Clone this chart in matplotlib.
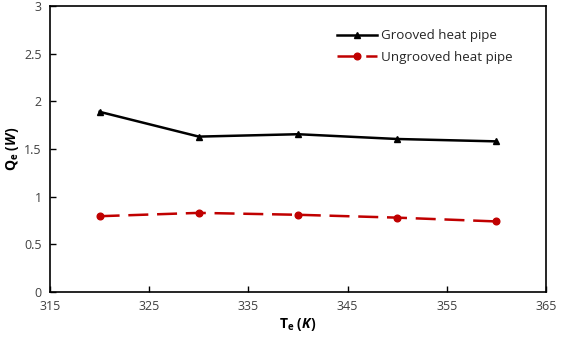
import matplotlib
matplotlib.use("Agg")
import matplotlib.pyplot as plt

plt.rcParams['font.family'] = ['Open Sans', 'DejaVu Sans']
plt.rcParams['mathtext.fontset'] = 'custom'
plt.rcParams['mathtext.rm'] = 'Open Sans'
plt.rcParams['mathtext.it'] = 'Open Sans:italic'
plt.rcParams['mathtext.bf'] = 'Open Sans:bold'
plt.rcParams['mathtext.bfit'] = 'Open Sans:bold:italic'

temps = [320, 330, 340, 350, 360]
grooved = [1.89, 1.63, 1.655, 1.605, 1.58]
ungrooved = [0.795, 0.83, 0.81, 0.78, 0.74]
x_ticks = [315, 325, 335, 345, 355, 365]
y_ticks = [0, 0.5, 1, 1.5, 2, 2.5, 3]

fig = plt.figure(figsize=(5.61, 3.37), dpi=100)
ax = fig.add_axes([50/561, 1 - 292/337, 496/561, 286/337])

ax.plot(temps, grooved, color='black', lw=1.8, marker='^', ms=4.8,
        label='Grooved heat pipe')
ax.plot(temps, ungrooved, color='#C00000', lw=1.8, ls=(0, (8, 3.5)), marker='o', ms=4.8,
        label='Ungrooved heat pipe')

ax.set_xlim(315, 365)
ax.set_ylim(0, 3)
ax.set_xticks(x_ticks)
ax.set_yticks(y_ticks)
ax.set_yticklabels(['0', '0.5', '1', '1.5', '2', '2.5', '3'])
ax.tick_params(direction='in', length=4, width=1, labelsize=9, colors='black',
               labelcolor='#404040', pad=6)
for s in ax.spines.values():
    s.set_linewidth(1.2)

ax.set_xlabel(r'$\mathbf{T_e}$ $\mathbf{(}\mathbfit{K}\mathbf{)}$', fontsize=10, labelpad=2)
ax.set_ylabel(r'$\mathbf{Q_e}$ $\mathbf{(}\mathbfit{W}\mathbf{)}$', fontsize=10, labelpad=2)

# legend without frame, line handles with the marker centred
leg = ax.legend(loc='upper left', bbox_to_anchor=(0.555, 0.96), frameon=False,
                fontsize=9.6, handlelength=3.0, labelspacing=0.65, handletextpad=0.3)
for t in leg.get_texts():
    t.set_color('#262626')

fig.savefig('out.png', dpi=100)
